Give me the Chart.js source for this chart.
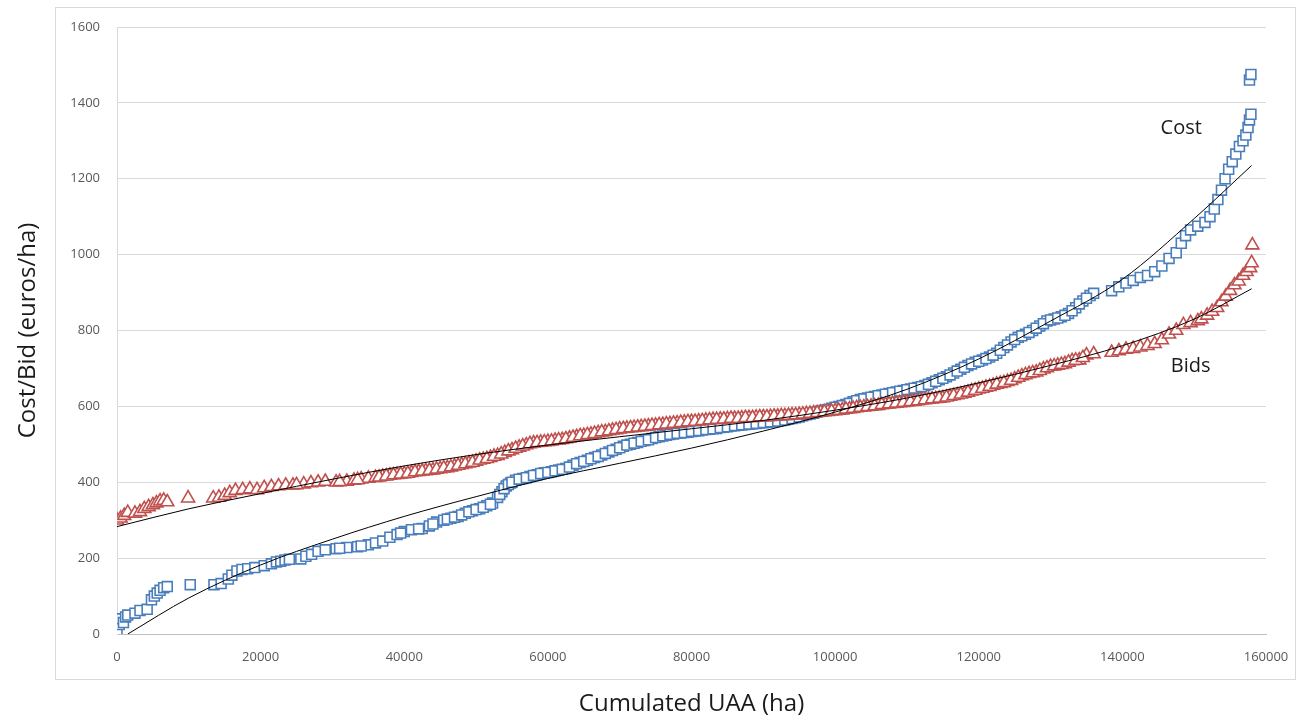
<!DOCTYPE html>
<html>
<head>
<meta charset="utf-8">
<title>Cost and bids vs cumulated UAA</title>
<script src="https://cdn.jsdelivr.net/npm/chart.js@4.4.1/dist/chart.umd.min.js"></script>
<style>
  html, body { margin: 0; padding: 0; background: #ffffff; }
  #wrap { width: 1297px; height: 722px; position: relative; }
</style>
</head>
<body>
<div id="wrap"><canvas id="myChart"></canvas></div>
<script>
// axis ticks
var xTicks = [0, 20000, 40000, 60000, 80000, 100000, 120000, 140000, 160000];
var yTicks = [0, 200, 400, 600, 800, 1000, 1200, 1400, 1600];

// Cost (cumulated UAA, euros/ha)
var costPoints = [
  [0,10],[300,25],[600,40],[900,30],[1200,45],[1500,50],[2500,55],[3200,62],[4200,65],[4800,90],
  [5200,100],[5600,108],[6000,115],[6500,122],[7000,125],[10200,130],[13500,130],[14500,133],[15500,145],[16000,155],
  [16700,166],[17400,170],[18200,172],[19200,175],[20500,180],[21500,185],[22200,190],[22800,192],[23400,195],[25600,198],
  [26300,205],[27100,210],[28000,218],[29000,222],[30500,225],[32000,228],[33500,230],[35000,235],[36000,240],[37000,245],
  [38000,255],[39000,262],[40000,270],[41000,275],[42500,278],[43500,285],[44500,295],[45500,300],[46500,305],[47500,310],
  [48500,318],[49500,325],[50500,330],[51500,338],[52300,345],[53000,360],[53600,375],[54200,390],[54800,398],[55500,405],
  [56500,410],[57500,415],[58500,420],[59500,425],[60500,428],[61500,432],[62500,436],[63500,445],[64500,452],[65500,458],
  [66500,465],[67500,472],[68500,480],[69500,487],[70500,495],[71500,500],[72500,505],[73500,510],[74500,515],[75500,520],
  [76500,524],[77500,527],[78500,530],[79500,532],[80500,535],[81500,538],[82500,540],[83500,542],[84500,545],[85500,548],
  [86500,550],[87500,552],[88500,554],[89500,556],[90500,558],[91500,560],[92500,563],[93500,566],[94500,570],[95500,575],
  [96500,580],[97500,585],[98500,590],[99500,595],[100500,600],[101500,605],[102500,612],[103500,618],[104500,622],[105500,626],
  [106500,630],[107500,634],[108500,638],[109500,642],[110500,646],[111500,650],[112500,655],[113500,662],[114500,670],[115500,678],
  [116500,688],[117500,698],[118500,708],[119500,716],[120500,722],[121500,730],[122500,740],[123500,755],[124500,770],[125500,782],
  [126500,790],[127500,800],[128500,812],[129500,825],[130500,830],[131500,836],[132500,845],[133500,860],[134500,878],[135500,892],
  [136000,898],[138500,905],[139500,915],[140500,925],[141500,932],[142500,940],[143500,945],[144500,955],[145500,970],[146500,990],
  [147500,1005],[148200,1030],[148800,1050],[149500,1065],[150500,1075],[151500,1085],[152200,1100],[152800,1120],[153300,1145],[153800,1170],
  [154300,1200],[154800,1225],[155300,1245],[155800,1265],[156300,1285],[156800,1300],[157200,1315],[157500,1335],[157700,1355],[157900,1370],
  [157700,1460],[157900,1475],
  [24000,197],[31000,226],[34000,232],[39500,266],[42000,277],[44000,290],
  [46000,303],[47000,308],[48000,314],[49000,322],[50000,328],[51000,334],[52000,342],[53300,368],[53900,383],[54500,394],
  [55000,400],[56000,408],[57000,412],[58000,418],[59000,423],[60000,426],[61000,430],[62000,434],[63000,440],[64000,449],
  [65000,455],[66000,462],[67000,468],[68000,476],[69000,484],[70000,491],[71000,498],[72000,503],[73000,508],[74000,512],
  [75000,518],[76000,522],[77000,526],[78000,529],[79000,531],[80000,534],[81000,536],[82000,539],[83000,541],[84000,544],
  [85000,546],[86000,549],[87000,551],[88000,553],[89000,555],[90000,557],[91000,559],[92000,561],[93000,564],[94000,568],
  [95000,572],[96000,578],[97000,582],[98000,588],[99000,592],[100000,598],[101000,602],[102000,608],[103000,615],[104000,620],
  [105000,624],[106000,628],[107000,632],[108000,636],[109000,640],[110000,644],[111000,648],[112000,652],[113000,658],[114000,666],
  [115000,674],[116000,683],[117000,693],[118000,703],[119000,712],[120000,719],[121000,726],[122000,735],[123000,748],[124000,762],
  [125000,776],[126000,786],[127000,795],[128000,806],[129000,818],[130000,828],[131000,833],[132000,840],[133000,852],[134000,870],
  [135000,885]
];

// Bids (cumulated UAA, euros/ha)
var bidPoints = [
  [0,300],[500,305],[1000,312],[1500,320],[2500,318],[3200,322],[3800,330],[4400,335],[5000,340],[5500,345],
  [6000,350],[6500,352],[7000,348],[9900,358],[13400,358],[14200,360],[15000,365],[15700,372],[16500,378],[17500,380],
  [18500,382],[19500,380],[20500,385],[21500,388],[22500,390],[23500,392],[26000,395],[27000,398],[28000,400],[29000,402],
  [30500,400],[32000,402],[33000,405],[34000,408],[35000,410],[36000,412],[37000,415],[38000,418],[39000,420],[40000,422],
  [41000,425],[42000,428],[43000,430],[44000,432],[45000,435],[46000,438],[47000,442],[48000,446],[49000,450],[50000,455],
  [51000,460],[52000,465],[53000,470],[54000,478],[55000,485],[56000,492],[57000,498],[58000,503],[59000,505],[60000,507],
  [61000,510],[62000,512],[63000,516],[64000,520],[65000,523],[66000,526],[67000,530],[68000,533],[69000,537],[70000,540],
  [71000,542],[72000,544],[73000,546],[74000,548],[75000,550],[76000,552],[77000,554],[78000,556],[79000,558],[80000,560],
  [81000,561],[82000,563],[83000,565],[84000,566],[85000,567],[86000,568],[87000,569],[88000,570],[89000,571],[90000,572],
  [91000,573],[92000,574],[93000,575],[94000,577],[95000,578],[96000,580],[97000,582],[98000,584],[99000,586],[100000,588],
  [101000,590],[102000,593],[103000,596],[104000,598],[105000,600],[106000,602],[107000,605],[108000,607],[109000,609],[110000,611],
  [111000,613],[112000,616],[113000,618],[114000,620],[115000,622],[116000,626],[117000,630],[118000,634],[119000,640],[120000,645],
  [121000,650],[122000,655],[123000,660],[124000,665],[125000,672],[126000,680],[127000,686],[128000,690],[129000,698],[130000,705],
  [131000,708],[132000,712],[133000,720],[134000,722],[135000,735],[136000,738],[138500,742],[139500,746],[140500,750],[141500,752],
  [142500,756],[143500,760],[144500,765],[145500,775],[146500,790],[147500,800],[148500,815],[149500,820],[150500,825],[151000,830],
  [151800,840],[152500,850],[153200,860],[153800,875],[154400,890],[155000,905],[155600,920],[156200,930],[156800,945],[157300,955],
  [157800,965],[158000,978],[158100,1025],
  [24500,392],[25000,393],[31000,401],[33500,406],[36500,413],[37500,416],[38500,419],[39500,421],
  [40500,423],[41500,427],[42500,429],[43500,431],[44500,434],[45500,437],[46500,440],[47500,444],[48500,448],[49500,452],
  [50500,458],[51500,462],[52500,468],[53500,474],[54500,482],[55500,489],[56500,495],[57500,501],[58500,504],[59500,506],
  [60500,508],[61500,511],[62500,514],[63500,518],[64500,522],[65500,525],[66500,528],[67500,532],[68500,535],[69500,538],
  [70500,541],[71500,543],[72500,545],[73500,547],[74500,549],[75500,551],[76500,553],[77500,555],[78500,557],[79500,559],
  [80500,560],[81500,562],[82500,564],[83500,565],[84500,566],[85500,568],[86500,568],[87500,570],[88500,570],[89500,572],
  [90500,572],[91500,574],[92500,575],[93500,576],[94500,577],[95500,579],[96500,581],[97500,583],[98500,585],[99500,587],
  [100500,589],[101500,592],[102500,594],[103500,597],[104500,599],[105500,601],[106500,604],[107500,606],[108500,608],[109500,610],
  [110500,612],[111500,614],[112500,617],[113500,619],[114500,621],[115500,624],[116500,628],[117500,632],[118500,637],[119500,642],
  [120500,647],[121500,652],[122500,658],[123500,662],[124500,668],[125500,676],[126500,683],[127500,688],[128500,694],[129500,701],
  [130500,706],[131500,710],[132500,716],[133500,721],[134500,728]
];

// fitted trend curves
var costTrend = [[1500,0],[10000,95],[20000,182],[30000,250],[40000,310],[50000,362],[60000,410],[70000,450],[80000,490],
  [90000,535],[100000,585],[110000,645],[120000,725],[130000,825],[140000,935],[150000,1095],[158000,1235]];
var bidTrend = [[0,283],[10000,330],[20000,370],[30000,408],[40000,443],[50000,473],[60000,498],[70000,520],[80000,541],
  [90000,563],[100000,590],[110000,622],[120000,662],[130000,708],[140000,760],[150000,830],[158000,910]];

// text labels placed in data space
var labelText = ["Cost", "Bids"];
var labelX = [148200, 149500];
var labelY = [1334, 706];

function toXY(arr) {
  return arr.map(function (p) { return { x: p[0], y: p[1] }; });
}

var frameAndLabels = {
  id: "frameAndLabels",
  beforeDraw: function (chart) {
    var ctx = chart.ctx;
    ctx.save();
    ctx.fillStyle = "#ffffff";
    ctx.fillRect(0, 0, chart.width, chart.height);
    ctx.strokeStyle = "#D9D9D9";
    ctx.lineWidth = 1;
    ctx.strokeRect(55.5, 7.5, 1240, 672);
    ctx.restore();
  },
  afterDatasetsDraw: function (chart) {
    var ctx = chart.ctx;
    ctx.save();
    ctx.fillStyle = "#1a1a1a";
    ctx.font = "20px 'Open Sans'";
    ctx.textAlign = "center";
    ctx.textBaseline = "middle";
    for (var i = 0; i < labelText.length; i++) {
      ctx.fillText(labelText[i], chart.scales.x.getPixelForValue(labelX[i]), chart.scales.y.getPixelForValue(labelY[i]));
    }
    ctx.restore();
  }
};

new Chart("myChart", {
  type: "scatter",
  data: {
    datasets: [{
      label: "Cost",
      data: toXY(costPoints),
      pointStyle: "rect",
      pointRadius: 7,
      pointBorderWidth: 1.6,
      borderColor: "#4A7EBB",
      backgroundColor: "#ffffff",
      order: 3
    }, {
      label: "Bids",
      data: toXY(bidPoints),
      pointStyle: "triangle",
      pointRadius: 7.5,
      pointBorderWidth: 1.6,
      borderColor: "#C0504D",
      backgroundColor: "#ffffff",
      order: 2
    }, {
      label: "Cost trend",
      data: toXY(costTrend),
      showLine: true,
      pointRadius: 0,
      borderColor: "#000000",
      borderWidth: 1,
      cubicInterpolationMode: "monotone",
      order: 0
    }, {
      label: "Bids trend",
      data: toXY(bidTrend),
      showLine: true,
      pointRadius: 0,
      borderColor: "#000000",
      borderWidth: 1,
      cubicInterpolationMode: "monotone",
      order: 1
    }]
  },
  options: {
    responsive: true,
    maintainAspectRatio: false,
    animation: false,
    layout: { padding: { top: 27, right: 31, bottom: 0, left: 0 } },
    plugins: {
      legend: { display: false },
      tooltip: { enabled: false }
    },
    scales: {
      x: {
        type: "linear",
        min: xTicks[0],
        max: xTicks[xTicks.length - 1],
        afterBuildTicks: function (s) { s.ticks = xTicks.map(function (v) { return { value: v }; }); },
        afterFit: function (s) { s.height = 88; s.paddingLeft = 0; s.paddingRight = 0; },
        grid: { display: false, drawTicks: false },
        border: { display: true, color: "#BFBFBF", width: 1 },
        ticks: {
          padding: 15,
          color: "#595959",
          font: { family: "'Open Sans'", size: 13 },
          maxRotation: 0,
          callback: function (v) { return String(v); }
        },
        title: {
          display: true,
          text: "Cumulated UAA (ha)",
          color: "#1a1a1a",
          font: { family: "'Open Sans'", size: 24 },
          padding: { top: 0, bottom: 3 }
        }
      },
      y: {
        type: "linear",
        min: yTicks[0],
        max: yTicks[yTicks.length - 1],
        afterBuildTicks: function (s) { s.ticks = yTicks.map(function (v) { return { value: v }; }); },
        afterFit: function (s) { s.width = 117; },
        grid: { color: "#D9D9D9", drawTicks: false },
        border: { display: true, color: "#D9D9D9", width: 1 },
        ticks: {
          padding: 17,
          color: "#595959",
          font: { family: "'Open Sans'", size: 13 },
          callback: function (v) { return String(v); }
        },
        title: {
          display: true,
          text: "Cost/Bid (euros/ha)",
          color: "#1a1a1a",
          font: { family: "'Open Sans'", size: 24 },
          padding: { top: 14, bottom: 0 }
        }
      }
    }
  },
  plugins: [frameAndLabels]
});
</script>
</body>
</html>
